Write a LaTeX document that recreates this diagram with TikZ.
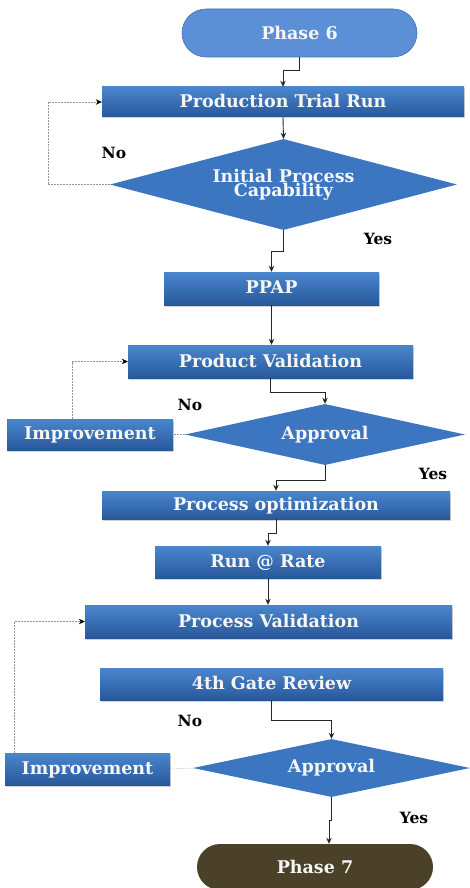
\documentclass[tikz,border=0pt]{standalone}
\usepackage{fontspec}
\setmainfont{DejaVu Serif}
\usetikzlibrary{shapes.geometric,shapes.misc,arrows.meta,shadows}
\definecolor{boxtop}{RGB}{74,134,206}
\definecolor{boxmid}{RGB}{60,119,192}
\definecolor{boxbot}{RGB}{40,88,154}
\definecolor{diafill}{RGB}{60,118,192}
\definecolor{startfill}{RGB}{91,143,214}
\definecolor{startline}{RGB}{70,115,180}
\definecolor{endfill}{RGB}{74,65,40}
\definecolor{txt}{RGB}{246,246,246}
\definecolor{fbline}{RGB}{150,150,150}
\tikzset{
  boxtext/.style={font=\fontsize{17.5}{17.5}\selectfont\bfseries, text=txt},
  procbox/.style={boxtext, rectangle, draw=none, top color=boxtop, middle color=boxmid, bottom color=boxbot,
     inner sep=0pt, text depth=.2em,
     drop shadow={opacity=0.35, shadow xshift=1pt, shadow yshift=-1.5pt}},
  decide/.style={boxtext, diamond, fill=diafill, draw=none, inner sep=0pt},
  terminal/.style={boxtext, rounded rectangle, inner sep=0pt},
  lbl/.style={font=\fontsize{15.5}{15.5}\selectfont\bfseries, text=black},
  arr/.style={draw=black!85, line width=0.9pt, -{Stealth[length=6pt,width=5.5pt]}},
  fb/.style={draw=fbline, line width=0.5pt, densely dotted},
  fbarr/.style={fb, -{Stealth[length=6pt,width=5.5pt,color=black,fill=black]}}
}
\begin{document}
\begin{tikzpicture}[x=1pt,y=-1pt]
\useasboundingbox[fill=white] (0,0) rectangle (470,888);

% nodes
\node[terminal, fill=startfill, draw=startline, line width=0.6pt, minimum width=235pt, minimum height=48pt] (p6) at (299.5,33) {Phase 6};
\node[procbox, minimum width=362pt, minimum height=30pt] (ptr) at (283,102) {Production Trial Run};
\node[decide, shape aspect=3.81, minimum width=347pt, minimum height=91pt, align=center,
      font=\fontsize{17.5}{14}\selectfont\bfseries] (ipc) at (283.5,184.5) {Initial Process\\Capability};
\node[procbox, minimum width=215pt, minimum height=33pt] (ppap) at (271.5,288.5) {PPAP};
\node[procbox, minimum width=285pt, minimum height=33pt] (pv) at (270.5,361.5) {Product Validation};
\node[decide, shape aspect=4.59, minimum width=280pt, minimum height=61pt] (ap1) at (325,434.5) {Approval};
\node[procbox, minimum width=166pt, minimum height=31pt] (imp1) at (90,434.5) {Improvement};
\node[procbox, minimum width=348pt, minimum height=28pt] (po) at (276,505) {Process optimization};
\node[procbox, minimum width=226pt, minimum height=32pt] (rar) at (268,562) {Run @ Rate};
\node[procbox, minimum width=367pt, minimum height=33pt] (pv2) at (268.5,621.5) {Process Validation};
\node[procbox, minimum width=343pt, minimum height=32pt] (gate) at (271.5,684) {4th Gate Review};
\node[decide, shape aspect=4.78, minimum width=277pt, minimum height=58pt] (ap2) at (331.5,768) {Approval};
\node[procbox, minimum width=165pt, minimum height=32pt] (imp2) at (87.5,769) {Improvement};
\node[terminal, fill=endfill, draw=none, minimum width=236pt, minimum height=46pt] (p7) at (315,867) {Phase 7};

% labels
\node[lbl] (no1) at (114,153) {No};
\node[lbl] (yes1) at (378,239) {Yes};
\node[lbl] (no2) at (190,405) {No};
\node[lbl] (yes2) at (433,474) {Yes};
\node[lbl] (no3) at (190,721) {No};
\node[lbl] (yes3) at (414,818) {Yes};

% main flow
\draw[arr] (p6.south) -- ++(0,13) -| (ptr.north);
\draw[arr] (ptr.south) -- (ipc.north);
\draw[arr] (ipc.south) -- ++(0,21) -| (ppap.north);
\draw[arr] (ppap.south) -- (ppap.south |- pv.north);
\draw[arr] (pv.south) -- ++(0,14) -| (ap1.north);
\draw[arr] (ap1.south) -- ++(0,15) -| (po.north);
\draw[arr] (po.south) -- ++(0,14) -| (rar.north);
\draw[arr] (rar.south) -- (rar.south |- pv2.north);
\draw[arr] (gate.south) -- ++(0,20) -| (ap2.north);
\draw[arr] (ap2.south) -- ++(0,23) -| ([xshift=14pt]p7.north);

% feedback loops
\draw[fbarr] (ipc.west) -- ++(-62,0) |- (ptr.west);
\draw[fb] (ap1.west) -- (imp1.east);
\draw[fbarr] ([xshift=-18pt]imp1.north) |- (pv.west);
\draw[fb] (ap2.west) -- (imp2.east);
\draw[fbarr] ([xshift=-73.5pt]imp2.north) |- (pv2.west);
\end{tikzpicture}
\end{document}
